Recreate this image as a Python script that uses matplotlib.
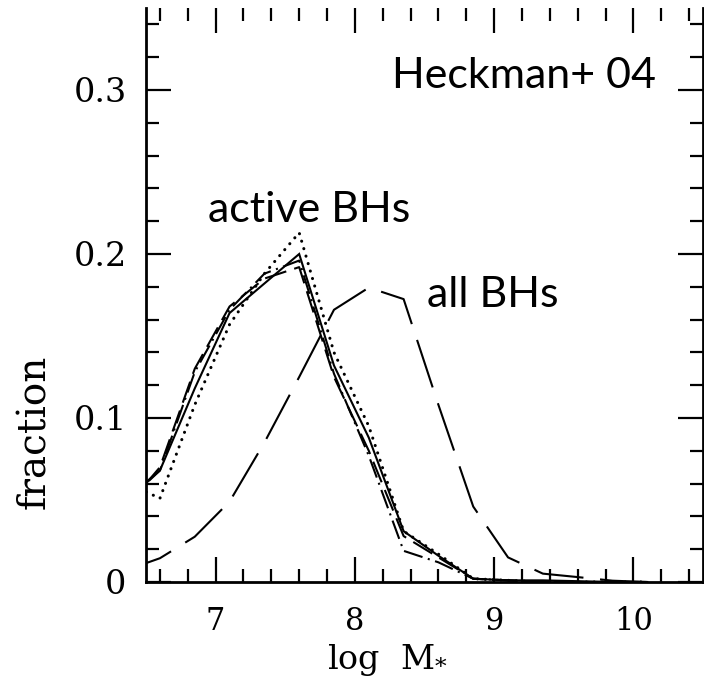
import matplotlib
matplotlib.use("Agg")
import matplotlib.pyplot as plt
from matplotlib.ticker import MultipleLocator, FixedFormatter, FixedLocator

plt.rcParams['lines.scale_dashes'] = False
plt.rcParams['mathtext.fontset'] = 'dejavuserif'

# bin centres (log M*)
logm = [6.35, 6.6, 6.85, 7.1, 7.35, 7.6, 7.85, 8.1, 8.35, 8.6, 8.85, 9.1, 9.35, 9.6, 9.85, 10.1]

# active BHs (four variants)
active_solid = [0.050, 0.068, 0.118, 0.164, 0.182, 0.200, 0.132, 0.088, 0.031, 0.016, 0.002, 0.001, 0.001, 0.0005, 0.0, 0.0]
active_dotted = [0.061, 0.051, 0.108, 0.157, 0.188, 0.213, 0.140, 0.095, 0.031, 0.017, 0.002, 0.001, 0.0, 0.0, 0.0, 0.0]
active_dashed = [0.045, 0.070, 0.130, 0.168, 0.185, 0.192, 0.125, 0.080, 0.028, 0.015, 0.002, 0.001, 0.0, 0.0, 0.0, 0.0]
active_dashdot = [0.048, 0.068, 0.128, 0.166, 0.188, 0.196, 0.127, 0.077, 0.019, 0.012, 0.002, 0.001, 0.0, 0.0, 0.0, 0.0]

# all BHs
all_bhs = [0.007, 0.0145, 0.0276, 0.049, 0.085, 0.125, 0.166, 0.1795, 0.1725, 0.108, 0.046, 0.015, 0.0051, 0.003, 0.0008, 0.0]

xticks = [7, 8, 9, 10]
xticklabels = ['7', '8', '9', '10']
yticks = [0.0, 0.1, 0.2, 0.3]
yticklabels = ['0', '0.1', '0.2', '0.3']

fig = plt.figure(figsize=(7.04, 6.81), dpi=100)
ax = fig.add_axes([146/704, (681-582)/681, (703-146)/704, (582-8)/681])

lw = 1.5
ax.plot(logm, active_solid, color='black', lw=lw, solid_joinstyle='miter')
ax.plot(logm, active_dotted, color='black', lw=2.2, dashes=(0.1, 5.5), dash_capstyle='round')
ax.plot(logm, active_dashed, color='black', lw=lw, dashes=(16, 6))
ax.plot(logm, active_dashdot, color='black', lw=lw, dashes=(14, 4, 1.5, 4))
ax.plot(logm, all_bhs, color='black', lw=lw, dashes=(36, 12))

ax.set_xlim(6.5, 10.5)
ax.set_ylim(0, 0.35)

ax.xaxis.set_major_locator(FixedLocator(xticks))
ax.xaxis.set_major_formatter(FixedFormatter(xticklabels))
ax.xaxis.set_minor_locator(MultipleLocator(0.2))
ax.yaxis.set_major_locator(FixedLocator(yticks))
ax.yaxis.set_major_formatter(FixedFormatter(yticklabels))
ax.yaxis.set_minor_locator(MultipleLocator(0.02))

ax.tick_params(which='both', direction='in', top=True, right=True, width=1.6, color='black')
ax.tick_params(which='major', length=18)
ax.tick_params(which='minor', length=9.5)
ax.tick_params(axis='x', which='major', pad=17)
ax.tick_params(axis='y', which='major', pad=14)
for lab in ax.get_xticklabels():
    lab.set_fontfamily('DejaVu Serif')
    lab.set_fontsize(22)
for lab in ax.get_yticklabels():
    lab.set_fontfamily('DejaVu Serif')
    lab.set_fontsize(24)

for s in ['left', 'bottom', 'right']:
    ax.spines[s].set_linewidth(2.0)
ax.spines['top'].set_visible(False)

fig.text(388/704, (681-660)/681, r'log  M$_{*}$', family='DejaVu Serif', fontsize=24,
         ha='center', va='center')
fig.text(35/704, (681-432)/681, 'fraction', family='DejaVu Serif', fontsize=28,
         ha='center', va='center', rotation=90)

ax.text(8.267, 0.301, 'Heckman+ 04', family='Lato', fontsize=31, va='baseline', ha='left')
ax.text(6.945, 0.2197, 'active BHs', family='Lato', fontsize=31, va='baseline', ha='left')
ax.text(8.516, 0.1679, 'all BHs', family='Lato', fontsize=31, va='baseline', ha='left')

fig.savefig('out.png', dpi=100)
